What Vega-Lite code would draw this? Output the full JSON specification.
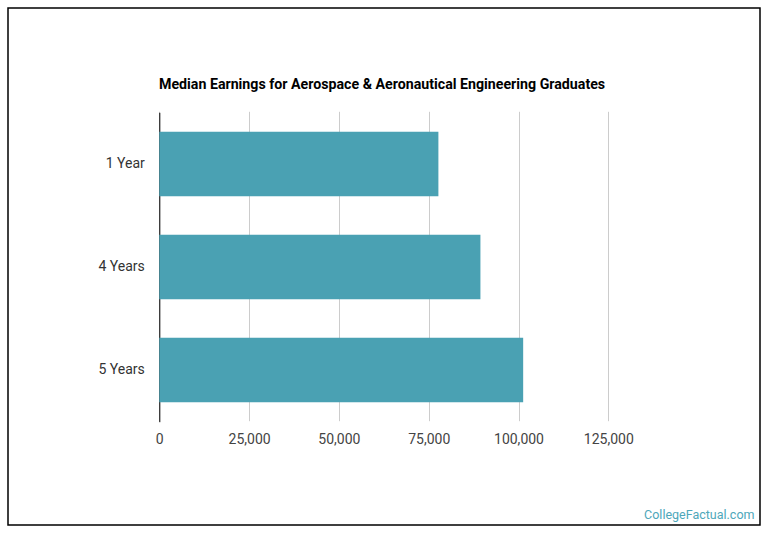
{
  "$schema": "https://vega.github.io/schema/vega-lite/v6.json",
  "width": 752,
  "height": 517,
  "autosize": {"type": "none"},
  "padding": {"left": 8, "top": 8, "right": 10, "bottom": 11},
  "background": "white",
  "title": {
    "text": "Median Earnings for Aerospace & Aeronautical Engineering Graduates",
    "anchor": "start",
    "frame": "group",
    "dx": 151,
    "offset": -95,
    "baseline": "alphabetic",
    "font": "Roboto",
    "fontSize": 14.2,
    "fontWeight": "bold",
    "color": "#000000"
  },
  "data": {
    "values": [
      {"period": "1 Year", "earnings": 77700},
      {"period": "4 Years", "earnings": 89400},
      {"period": "5 Years", "earnings": 101300}
    ]
  },
  "mark": {"type": "bar", "color": "#4aa1b3"},
  "encoding": {
    "y": {
      "field": "period",
      "type": "nominal",
      "sort": null,
      "scale": {"range": [104.3, 413.7], "paddingInner": 0.372, "paddingOuter": 0.188},
      "axis": {
        "title": null,
        "orient": "left",
        "offset": -151.3,
        "grid": false,
        "domainColor": "#000000",
        "domainWidth": 1,
        "ticks": false,
        "tickSize": 0,
        "labelPadding": 15,
        "labelFont": "Roboto",
        "labelFontSize": 14,
        "labelColor": "#333333"
      }
    },
    "x": {
      "field": "earnings",
      "type": "quantitative",
      "scale": {"domain": [0, 125000], "range": [151.3, 600.3], "nice": false, "zero": true},
      "axis": {
        "orient": "bottom",
        "offset": -103.3,
        "values": [0, 25000, 50000, 75000, 100000, 125000],
        "format": ",d",
        "domain": false,
        "ticks": false,
        "tickSize": 0,
        "grid": true,
        "gridColor": "#cccccc",
        "gridWidth": 1,
        "labelFlush": false,
        "labelPadding": 11,
        "labelFont": "Roboto",
        "labelFontSize": 14,
        "labelColor": "#444444",
        "title": "CollegeFactual.com",
        "titleX": 746,
        "titleY": 96.3,
        "titleAlign": "right",
        "titleBaseline": "alphabetic",
        "titleFont": "Roboto",
        "titleFontSize": 12.5,
        "titleFontWeight": "normal",
        "titleColor": "#4ea7ba"
      }
    }
  },
  "config": {"view": {"stroke": "#000000", "strokeWidth": 1.5}}
}
